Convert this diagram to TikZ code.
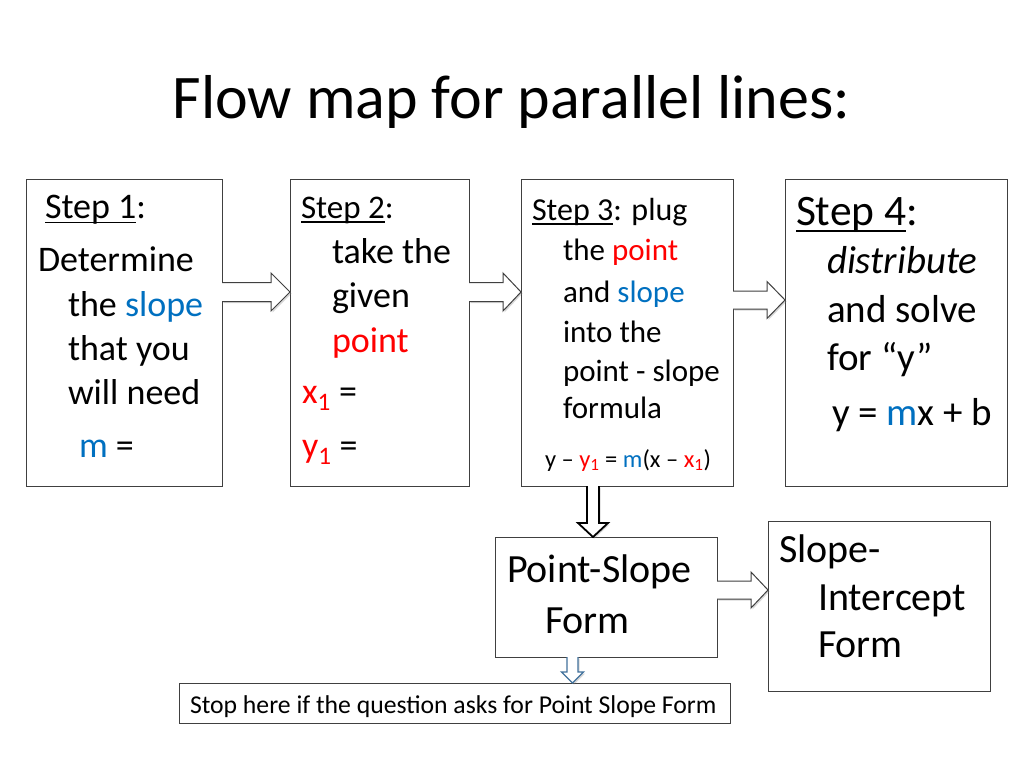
\documentclass[tikz,border=0pt]{standalone}
\usepackage{fontspec}
\setmainfont{Carlito}
\usetikzlibrary{calc,shadows}
\definecolor{sblue}{RGB}{0,112,192}
\definecolor{sred}{RGB}{255,0,0}
\definecolor{boxline}{RGB}{64,64,64}
\definecolor{stopblue}{RGB}{65,113,156}
\newcommand\myfs[1]{\fontsize{#1}{#1}\selectfont}
\newcommand\myul[1]{\setbox0\hbox{#1}\rlap{\rule[-0.15em]{\wd0}{0.045em}}\box0}
\newcommand\myblockR[6][]{%
  \draw[barrow,#1] ($(#2)+(0,-#4)$) -- ($(#3)+(-#6,-#4)$) -- ($(#3)+(-#6,-#5)$) -- (#3)
     -- ($(#3)+(-#6,#5)$) -- ($(#3)+(-#6,#4)$) -- ($(#2)+(0,#4)$);}
\newcommand\myblockD[6][]{%
  \draw[barrow,#1] ($(#2)+(-#4,0)$) -- ($(#3)+(-#4,-#6)$) -- ($(#3)+(-#5,-#6)$) -- (#3)
     -- ($(#3)+(#5,-#6)$) -- ($(#3)+(#4,-#6)$) -- ($(#2)+(#4,0)$);}
\tikzset{
  box/.style={draw=boxline, line width=1pt, fill=white, inner sep=0pt, outer sep=0pt},
  txt/.style={anchor=base west, inner sep=0pt, outer sep=0pt},
  barrow/.style={draw=boxline, line width=1pt, fill=white, line join=miter,
    drop shadow={shadow xshift=1.5pt, shadow yshift=-1.5pt, opacity=0.3}},
}
\begin{document}
\begin{tikzpicture}[x=1pt,y=-1pt]
\useasboundingbox[fill=white] (0,0) rectangle (1024,768);
% title
\node[anchor=base, inner sep=0pt] (title) at (511.5,118) {\myfs{62}Flow map for parallel lines:};
% boxes
\node[box, minimum width=196pt, minimum height=307pt] (b1) at (124,332.5) {};
\node[box, minimum width=179pt, minimum height=307pt] (b2) at (379.5,332.5) {};
\node[box, minimum width=212pt, minimum height=307pt] (b3) at (627,332.5) {};
\node[box, minimum width=222pt, minimum height=307pt] (b4) at (896,332.5) {};
\node[box, minimum width=222pt, minimum height=120pt] (ps) at (606,597) {};
\node[box, minimum width=222pt, minimum height=170pt] (si) at (879,606) {};
\node[box, minimum width=551pt, minimum height=40pt] (stop) at (454.5,703) {};
% box 1
\node[txt] (t1a) at (45,218) {\myfs{36}\myul{Step 1}:};
\node[txt] (t1b) at (38,271) {\myfs{36}Determine};
\node[txt] (t1c) at (68,316) {\myfs{36}the \textcolor{sblue}{slope}};
\node[txt] (t1d) at (68,360) {\myfs{36}that you};
\node[txt] (t1e) at (68,404) {\myfs{36}will need};
\node[txt] (t1f) at (79,457) {\myfs{36}\textcolor{sblue}{m} =};
% box 2
\node[txt] (t2a) at (301,218) {\myfs{33}\myul{Step 2}:};
\node[txt] (t2b) at (332,263) {\myfs{36}take the};
\node[txt] (t2c) at (332,307) {\myfs{36}given};
\node[txt] (t2d) at (332,352) {\myfs{36}\textcolor{sred}{point}};
\node[txt] (t2e) at (302,403) {\myfs{36}\textcolor{sred}{x\textsubscript{1}} =};
\node[txt] (t2f) at (302,457) {\myfs{36}\textcolor{sred}{y\textsubscript{1}} =};
% box 3
\node[txt] (t3a) at (532,220) {\myfs{32}\myul{Step 3}: plug};
\node[txt] (t3b) at (563,260) {\myfs{31}the \textcolor{sred}{point}};
\node[txt] (t3c) at (563,302) {\myfs{31}and \textcolor{sblue}{slope}};
\node[txt] (t3d) at (563,342) {\myfs{31}into the};
\node[txt] (t3e) at (563,381) {\myfs{31}point - slope};
\node[txt] (t3f) at (563,418) {\myfs{31}formula};
\node[txt] (t3g) at (545,467) {\myfs{24.5}y – \textcolor{sred}{y\textsubscript{1}} = \textcolor{sblue}{m}(x – \textcolor{sred}{x\textsubscript{1}})};
% box 4
\node[txt] (t4a) at (796,225) {\myfs{43.5}\myul{Step 4}:};
\node[txt] (t4b) at (827,273) {\myfs{39}\itshape distribute};
\node[txt] (t4c) at (827,322) {\myfs{39}and solve};
\node[txt] (t4d) at (827,370) {\myfs{39}for “y”};
\node[txt] (t4e) at (832,425) {\myfs{39}y = \textcolor{sblue}{m}x + b};
% point-slope box
\node[txt] (tpa) at (507,582) {\myfs{40}Point-Slope};
\node[txt] (tpb) at (545,633) {\myfs{40}Form};
% slope-intercept box
\node[txt] (tsa) at (779,562) {\myfs{40}Slope-};
\node[txt] (tsb) at (818,610) {\myfs{40}Intercept};
\node[txt] (tsc) at (818,657) {\myfs{40}Form};
% stop box
\node[txt] (tst) at (190,713) {\myfs{25.7}Stop here if the question asks for Point Slope Form};
% block arrows
\coordinate (y1) at (0,292);
\coordinate (y3) at (0,300);
\coordinate (y5) at (0,590);
\coordinate (xd) at (593,0);
\coordinate (xs) at (572.5,0);
\myblockR{b1.east |- y1}{b2.west |- y1}{9.5}{19}{19}
\myblockR{b2.east |- y1}{b3.west |- y1}{9.5}{19}{18}
\myblockR{b3.east |- y3}{b4.west |- y3}{9}{18.5}{18}
\myblockR{ps.east |- y5}{si.west |- y5}{9}{18}{17}
\myblockD[draw=black, line width=1.8pt, drop shadow={opacity=0}]{b3.south -| xd}{ps.north -| xd}{6}{15}{14}
\myblockD[draw=stopblue, line width=1.3pt, drop shadow={opacity=0}]{ps.south -| xs}{stop.north -| xs}{5.5}{11}{11}
\end{tikzpicture}
\end{document}
